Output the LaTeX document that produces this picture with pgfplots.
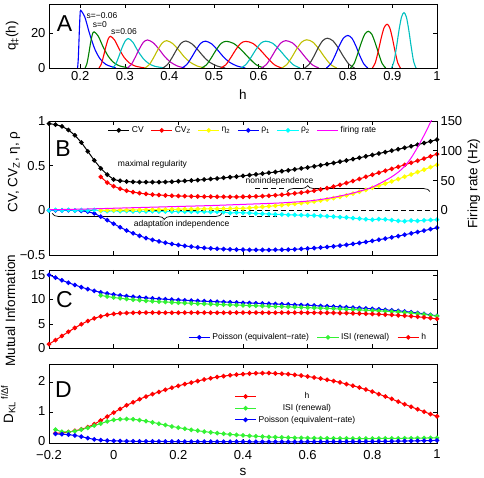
\documentclass[border=0pt]{standalone}
\usepackage{pgfplots}
\usepackage{pgfplotstable}
\pgfplotsset{compat=1.18}
\usepackage{fontspec}
\setmainfont{Liberation Sans}
\usetikzlibrary{decorations.pathreplacing}

\definecolor{mb}{rgb}{0,0,1}
\definecolor{mg}{rgb}{0,0.5,0}
\definecolor{mr}{rgb}{1,0,0}
\definecolor{mc}{rgb}{0,0.75,0.75}
\definecolor{mm}{rgb}{0.75,0,0.75}
\definecolor{my}{rgb}{0.75,0.75,0}
\definecolor{mk}{rgb}{0.25,0.25,0.25}
\definecolor{lgreen}{rgb}{0.2,0.95,0.2}
\definecolor{yel}{rgb}{1,1,0}
\definecolor{cya}{rgb}{0,1,1}
\definecolor{mag}{rgb}{1,0,1}

\pgfplotsset{
  base/.style={
    scale only axis, width=388pt, anchor=south west,
    /pgf/number format/assume math mode=true,
    tick label style={font=\fontsize{13}{14}\selectfont},
    label style={font=\fontsize{13.5}{15}\selectfont},
    major tick length=4pt, tick align=inside,
    axis line style={line width=0.6pt},
    every tick/.style={line width=0.6pt, black},
    legend style={font=\fontsize{8.5}{10}\selectfont, draw=none, fill=none},
    legend image code/.code={\draw[mark repeat=2,mark phase=2] plot coordinates {(0cm,0cm) (0.37cm,0cm) (0.74cm,0cm)};},
  },
  sx/.style={xmin=-0.2, xmax=1, xtick={-0.2,0,0.2,0.4,0.6,0.8,1}},
  ser/.style={color=#1, line width=1pt, mark=*, mark size=1.8pt, mark options={fill=#1, draw=#1, solid}},
  qa/.style={color=#1, line width=1.1pt, smooth, tension=0.5},
}

\pgfplotstableread{
s cv cvz eta ra rb
-0.20 0.970 nan nan 0.000 0.000
-0.18 0.960 nan nan 0.000 0.005
-0.16 0.940 nan nan 0.000 0.000
-0.14 0.900 nan nan 0.000 0.005
-0.12 0.840 nan nan -0.002 -0.002
-0.10 0.760 nan nan -0.006 0.004
-0.08 0.660 nan nan -0.015 0.000
-0.06 0.560 nan nan -0.035 0.005
-0.04 0.470 0.375 0.000 -0.070 -0.005
-0.02 0.400 0.310 0.001 -0.110 -0.010
0.00 0.345 0.270 0.002 -0.150 -0.005
0.02 0.330 0.242 0.003 -0.190 -0.010
0.04 0.322 0.220 0.004 -0.225 -0.008
0.06 0.318 0.204 0.005 -0.257 -0.012
0.08 0.316 0.192 0.006 -0.285 -0.010
0.10 0.315 0.183 0.007 -0.310 -0.012
0.12 0.315 0.176 0.008 -0.330 -0.010
0.14 0.316 0.171 0.009 -0.348 -0.013
0.16 0.318 0.167 0.010 -0.363 -0.012
0.18 0.321 0.164 0.011 -0.376 -0.014
0.20 0.325 0.161 0.012 -0.388 -0.012
0.22 0.329 0.159 0.013 -0.398 -0.015
0.24 0.334 0.157 0.014 -0.407 -0.014
0.26 0.339 0.155 0.015 -0.415 -0.016
0.28 0.345 0.154 0.016 -0.421 -0.015
0.30 0.351 0.153 0.017 -0.426 -0.018
0.32 0.357 0.152 0.018 -0.430 -0.017
0.34 0.364 0.151 0.019 -0.434 -0.020
0.36 0.371 0.151 0.020 -0.437 -0.030
0.38 0.378 0.151 0.021 -0.439 -0.025
0.40 0.386 0.152 0.022 -0.441 -0.028
0.42 0.394 0.153 0.027 -0.442 -0.030
0.44 0.402 0.156 0.033 -0.443 -0.035
0.46 0.411 0.159 0.039 -0.443 -0.038
0.48 0.420 0.163 0.045 -0.443 -0.042
0.50 0.429 0.168 0.052 -0.442 -0.045
0.52 0.438 0.174 0.059 -0.441 -0.047
0.54 0.448 0.181 0.066 -0.439 -0.050
0.56 0.458 0.189 0.073 -0.436 -0.052
0.58 0.469 0.198 0.080 -0.432 -0.054
0.60 0.480 0.208 0.088 -0.428 -0.056
0.62 0.492 0.220 0.098 -0.423 -0.058
0.64 0.504 0.233 0.109 -0.417 -0.062
0.66 0.517 0.248 0.122 -0.410 -0.066
0.68 0.530 0.265 0.136 -0.403 -0.070
0.70 0.544 0.285 0.151 -0.395 -0.075
0.72 0.558 0.306 0.168 -0.386 -0.080
0.74 0.573 0.328 0.187 -0.376 -0.087
0.76 0.588 0.351 0.207 -0.365 -0.093
0.78 0.604 0.375 0.229 -0.354 -0.100
0.80 0.620 0.399 0.252 -0.342 -0.105
0.82 0.636 0.421 0.276 -0.329 -0.098
0.84 0.652 0.443 0.300 -0.316 -0.102
0.86 0.668 0.465 0.325 -0.302 -0.110
0.88 0.684 0.487 0.350 -0.288 -0.118
0.90 0.700 0.509 0.376 -0.273 -0.122
0.92 0.717 0.532 0.402 -0.258 -0.115
0.94 0.735 0.555 0.428 -0.243 -0.118
0.96 0.753 0.579 0.455 -0.227 -0.112
0.98 0.772 0.604 0.483 -0.211 -0.108
1.00 0.792 0.630 0.510 -0.195 -0.105
}\tabB

\pgfplotstableread{
s pois isi h
-0.20 15.00 nan 0.90
-0.18 14.45 nan 1.70
-0.16 13.90 nan 2.55
-0.14 13.40 nan 3.40
-0.12 12.95 nan 4.20
-0.10 12.50 nan 4.95
-0.08 12.10 nan 5.60
-0.06 11.75 nan 6.15
-0.04 11.45 10.83 6.55
-0.02 11.20 10.59 6.85
0.00 11.00 10.40 7.05
0.02 10.82 10.22 7.17
0.04 10.67 10.08 7.24
0.06 10.54 9.95 7.28
0.08 10.42 9.84 7.30
0.10 10.31 9.73 7.30
0.12 10.21 9.63 7.30
0.14 10.12 9.55 7.30
0.16 10.04 9.47 7.30
0.18 9.96 9.40 7.30
0.20 9.89 9.33 7.30
0.22 9.82 9.26 7.30
0.24 9.76 9.21 7.30
0.26 9.70 9.15 7.30
0.28 9.64 9.10 7.30
0.30 9.58 9.04 7.30
0.32 9.53 8.99 7.30
0.34 9.47 8.94 7.30
0.36 9.42 8.89 7.30
0.38 9.37 8.85 7.30
0.40 9.32 8.80 7.30
0.42 9.27 8.75 7.30
0.44 9.22 8.71 7.30
0.46 9.17 8.66 7.30
0.48 9.12 8.62 7.30
0.50 9.07 8.57 7.30
0.52 9.02 8.53 7.30
0.54 8.97 8.48 7.30
0.56 8.91 8.43 7.30
0.58 8.86 8.38 7.30
0.60 8.80 8.33 7.30
0.62 8.74 8.28 7.29
0.64 8.68 8.23 7.28
0.66 8.62 8.18 7.27
0.68 8.55 8.12 7.25
0.70 8.48 8.06 7.23
0.72 8.41 8.00 7.20
0.74 8.33 7.94 7.17
0.76 8.25 7.87 7.13
0.78 8.17 7.81 7.09
0.80 8.08 7.73 7.04
0.82 7.99 7.67 6.98
0.84 7.89 7.60 6.91
0.86 7.79 7.53 6.84
0.88 7.68 7.45 6.76
0.90 7.55 7.35 6.67
0.92 7.40 7.23 6.57
0.94 7.24 7.10 6.46
0.96 7.06 6.95 6.34
0.98 6.86 6.78 6.20
1.00 6.65 6.60 6.05
}\tabC

\pgfplotstableread{
s h isi pois
-0.18 0.320 0.440 0.300
-0.16 0.330 0.370 0.290
-0.14 0.360 0.360 0.275
-0.12 0.400 0.390 0.250
-0.10 0.450 0.440 0.210
-0.08 0.520 0.500 0.160
-0.06 0.620 0.570 0.120
-0.04 0.740 0.640 0.095
-0.02 0.870 0.710 0.080
0.00 1.000 0.760 0.070
0.02 1.120 0.785 0.065
0.04 1.240 0.790 0.060
0.06 1.340 0.780 0.057
0.08 1.440 0.755 0.055
0.10 1.530 0.720 0.053
0.12 1.610 0.680 0.051
0.14 1.680 0.635 0.050
0.16 1.750 0.590 0.049
0.18 1.820 0.545 0.048
0.20 1.880 0.505 0.047
0.22 1.940 0.470 0.046
0.24 1.990 0.435 0.046
0.26 2.040 0.405 0.045
0.28 2.090 0.375 0.045
0.30 2.130 0.350 0.044
0.32 2.170 0.325 0.044
0.34 2.200 0.305 0.043
0.36 2.230 0.285 0.043
0.38 2.250 0.265 0.042
0.40 2.270 0.250 0.042
0.42 2.285 0.235 0.041
0.44 2.295 0.222 0.041
0.46 2.300 0.210 0.040
0.48 2.300 0.200 0.040
0.50 2.290 0.192 0.040
0.52 2.280 0.185 0.040
0.54 2.265 0.178 0.040
0.56 2.245 0.172 0.040
0.58 2.220 0.167 0.040
0.60 2.190 0.163 0.041
0.62 2.155 0.160 0.042
0.64 2.120 0.157 0.042
0.66 2.080 0.154 0.043
0.68 2.040 0.152 0.044
0.70 1.995 0.150 0.045
0.72 1.940 0.149 0.046
0.74 1.885 0.148 0.047
0.76 1.825 0.148 0.048
0.78 1.760 0.148 0.049
0.80 1.690 0.148 0.050
0.82 1.610 0.149 0.052
0.84 1.530 0.150 0.054
0.86 1.450 0.152 0.057
0.88 1.360 0.154 0.060
0.90 1.275 0.156 0.064
0.92 1.190 0.158 0.068
0.94 1.110 0.160 0.072
0.96 1.030 0.163 0.076
0.98 0.950 0.166 0.080
1.00 0.880 0.170 0.085
}\tabD

\begin{document}
\begin{tikzpicture}
\useasboundingbox (0,0) rectangle (484pt,478pt);

% ---------------- Panel A ----------------
\begin{axis}[base, at={(49pt,410pt)}, height=64pt,
  xmin=0.13, xmax=1, ymin=0, ymax=37,
  xtick={0.2,0.3,0.4,0.5,0.6,0.7,0.8,0.9,1},
  xticklabels={0.2,0.3,0.4,0.5,0.6,0.7,0.8,0.9,1},
  ytick={0,20}, yticklabels={0,20},
  xlabel={h}, ylabel={q\textsubscript{‡}(h)},
  xlabel style={at={(axis description cs:0.5,-0.41)}, anchor=center},
  ylabel style={at={(axis description cs:-0.095,0.5)}, anchor=center},
]
\addplot[qa=mb] coordinates {(0.194,0) (0.1954,4.0) (0.1968,12.7) (0.1982,22.6) (0.1996,30.6) (0.201,33.3) (0.2105,29.3) (0.2208,20.0) (0.2326,11.0) (0.2445,5.3) (0.2579,2.0) (0.28,0)};
\addplot[qa=mg] coordinates {(0.211,0) (0.215,2.5) (0.219,7.9) (0.223,14.2) (0.227,19.2) (0.231,20.9) (0.2405,18.4) (0.2508,12.5) (0.2626,6.9) (0.2745,3.3) (0.2879,1.25) (0.31,0)};
\addplot[qa=mr] coordinates {(0.242,0) (0.2472,2.2) (0.2524,7.0) (0.2576,12.4) (0.2628,16.8) (0.268,18.3) (0.2772,16.1) (0.2873,11.0) (0.2988,6.0) (0.3104,2.9) (0.3234,1.1) (0.345,0)};
\addplot[qa=mc] coordinates {(0.272,0) (0.2792,2.0) (0.2864,6.5) (0.2936,11.6) (0.3008,15.6) (0.308,17.0) (0.3178,15.0) (0.3285,10.2) (0.3408,5.6) (0.3531,2.7) (0.367,1.0) (0.39,0)};
\addplot[qa=mm] coordinates {(0.305,0) (0.3142,1.9) (0.3234,6.2) (0.3326,11.0) (0.3418,14.9) (0.351,16.2) (0.3636,14.6) (0.3762,11.0) (0.3888,6.8) (0.4014,3.6) (0.4182,1.1) (0.435,0)};
\addplot[qa=my] coordinates {(0.345,0) (0.3548,1.9) (0.3646,6.0) (0.3744,10.7) (0.3842,14.5) (0.394,15.8) (0.4069,14.2) (0.4198,10.7) (0.4327,6.6) (0.4456,3.5) (0.4628,1.1) (0.48,0)};
\addplot[qa=mk] coordinates {(0.385,0) (0.3954,1.9) (0.4058,5.9) (0.4162,10.6) (0.4266,14.4) (0.437,15.6) (0.4502,14.0) (0.4634,10.6) (0.4766,6.6) (0.4898,3.4) (0.5074,1.1) (0.525,0)};
\addplot[qa=mb] coordinates {(0.428,0) (0.4386,1.9) (0.4492,5.9) (0.4598,10.5) (0.4704,14.3) (0.481,15.5) (0.4944,14.0) (0.5077,10.5) (0.521,6.5) (0.5344,3.4) (0.5522,1.1) (0.57,0)};
\addplot[qa=mg] coordinates {(0.472,0) (0.483,1.8) (0.494,5.9) (0.505,10.5) (0.516,14.2) (0.527,15.4) (0.544,14.2) (0.561,10.5) (0.578,5.9) (0.595,1.8) (0.612,0)};
\addplot[qa=mr] coordinates {(0.515,0) (0.5262,1.8) (0.5374,5.9) (0.5486,10.5) (0.5598,14.2) (0.571,15.4) (0.5872,14.2) (0.6034,10.5) (0.6196,5.9) (0.6358,1.8) (0.652,0)};
\addplot[qa=mc] coordinates {(0.56,0) (0.5712,1.9) (0.5824,5.9) (0.5936,10.5) (0.6048,14.3) (0.616,15.5) (0.6314,14.3) (0.6468,10.5) (0.6622,5.9) (0.6776,1.9) (0.693,0)};
\addplot[qa=mm] coordinates {(0.606,0) (0.617,1.9) (0.628,6.0) (0.639,10.7) (0.65,14.5) (0.661,15.8) (0.6758,14.5) (0.6906,10.7) (0.7054,6.0) (0.7202,1.9) (0.735,0)};
\addplot[qa=my] coordinates {(0.652,0) (0.6632,2.0) (0.6744,6.2) (0.6856,11.1) (0.6968,15.0) (0.708,16.3) (0.7214,15.0) (0.7348,11.1) (0.7482,6.2) (0.7616,2.0) (0.775,0)};
\addplot[qa=mk] coordinates {(0.703,0) (0.7132,2.1) (0.7234,6.5) (0.7336,11.7) (0.7438,15.8) (0.754,17.2) (0.7662,15.8) (0.7784,11.7) (0.7906,6.5) (0.8028,2.1) (0.815,0)};
\addplot[qa=mb] coordinates {(0.752,0) (0.7616,2.3) (0.7712,7.1) (0.7808,12.8) (0.7904,17.3) (0.8,18.8) (0.809,17.3) (0.818,12.8) (0.827,7.1) (0.836,2.3) (0.845,0)};
\addplot[qa=mg] coordinates {(0.806,0) (0.814,2.5) (0.822,8.1) (0.83,14.4) (0.838,19.5) (0.846,21.2) (0.8538,19.5) (0.8616,14.4) (0.8694,8.1) (0.8772,2.5) (0.885,0)};
\addplot[qa=mr] coordinates {(0.855,0) (0.8616,3.0) (0.8682,9.6) (0.8748,17.2) (0.8814,23.3) (0.888,25.3) (0.894,23.3) (0.9,17.2) (0.906,9.6) (0.912,3.0) (0.918,0)};
\addplot[qa=mc] coordinates {(0.898,0) (0.9036,3.8) (0.9092,12.2) (0.9148,21.8) (0.9204,29.4) (0.926,32) (0.9314,29.4) (0.9368,21.8) (0.9422,12.2) (0.9476,3.8) (0.953,0)};
\node[font=\fontsize{23}{24}\selectfont] at (rel axis cs:0.04,0.695) {A};
\node[font=\fontsize{8.5}{9}\selectfont] at (axis cs:0.2487,30.2) {s=−0.06};
\node[font=\fontsize{8.5}{9}\selectfont] at (axis cs:0.2442,25.0) {s=0};
\node[font=\fontsize{8.5}{9}\selectfont] at (axis cs:0.298,20.9) {s=0.06};
\end{axis}

% ---------------- Panel B (left axis) ----------------
\begin{axis}[base, sx, at={(49pt,223pt)}, height=134pt,
  ymin=-0.5, ymax=1, ytick={-0.5,0,0.5,1}, yticklabels={−0.5,0,0.5,1},
  xticklabels={}, ytick pos=left,
  ylabel={CV, CV\textsubscript{Z}, η, ρ},
  ylabel style={at={(axis description cs:-0.09,0.62)}, anchor=center},
]
\addplot[black, line width=0.7pt, dash pattern=on 5pt off 3pt] coordinates {(-0.2,0) (1,0)};
\addplot[ser=mb] table[x=s,y=ra]{\tabB};
\addplot[ser=cya] table[x=s,y=rb]{\tabB};
\addplot[ser=yel] table[x=s,y=eta]{\tabB};
\addplot[ser=mr] table[x=s,y=cvz]{\tabB};
\addplot[ser=black] table[x=s,y=cv]{\tabB};
\draw[decorate, decoration={brace, mirror, amplitude=6pt, aspect=0.66}, line width=0.7pt] (axis cs:-0.19,-0.035) -- (axis cs:0.335,-0.035);
\draw[line width=0.7pt, dash pattern=on 5pt off 3pt] (axis cs:0.345,-0.068) -- (axis cs:0.505,-0.068);
\draw[decorate, decoration={brace, amplitude=6pt, aspect=0.145}, line width=0.7pt] (axis cs:0.536,0.21) -- (axis cs:0.978,0.21);
\draw[line width=0.7pt, dash pattern=on 5pt off 3pt] (axis cs:0.437,0.243) -- (axis cs:0.528,0.243);
\node[font=\fontsize{8.5}{9}\selectfont] at (axis cs:0.12,0.51) {maximal regularity};
\node[font=\fontsize{8.5}{9}\selectfont] at (axis cs:0.513,0.33) {nonindependence};
\node[font=\fontsize{8.5}{9}\selectfont] at (axis cs:0.21,-0.155) {adaptation independence};
\node[font=\fontsize{23}{24}\selectfont] at (rel axis cs:0.036,0.796) {B};
\end{axis}

% ---------------- Panel B (right axis) ----------------
\begin{axis}[base, sx, at={(49pt,223pt)}, height=134pt,
  ymin=-75, ymax=150, ytick={0,50,100,150}, yticklabels={0,50,100,150},
  axis y line*=right, axis x line=none, tick align=inside,
  ylabel={Firing rate (Hz)},
  ylabel style={at={(axis description cs:1.095,0.533)}, anchor=center, rotate=0},
  legend columns=6,
  legend style={at={(0.5,0.99)}, anchor=north, /tikz/every even column/.append style={column sep=5pt}},
]
\addlegendimage{ser=black}\addlegendentry{CV}
\addlegendimage{ser=mr}\addlegendentry{CV\textsubscript{Z}}
\addlegendimage{ser=yel}\addlegendentry{η\textsubscript{2}}
\addlegendimage{ser=mb}\addlegendentry{ρ\textsubscript{1}}
\addlegendimage{ser=cya}\addlegendentry{ρ\textsubscript{2}}
\addplot[mag, line width=1pt, smooth] coordinates {(-0.2,1) (-0.1,2) (0,3.5) (0.1,5) (0.2,6.5) (0.3,8) (0.4,10) (0.5,12) (0.55,13.5) (0.6,15.5) (0.65,19) (0.7,24) (0.75,30.5) (0.8,39) (0.85,53) (0.88,64) (0.9,74) (0.92,88) (0.94,106) (0.96,126) (0.98,148) (0.99,160) (1.0,175)};
\addlegendentry{firing rate}
\end{axis}

% ---------------- Panel C ----------------
\begin{axis}[base, sx, at={(49pt,129.5pt)}, height=78.5pt,
  ymin=0, ymax=16, ytick={0,5,10,15}, yticklabels={0,5,10,15},
  xticklabels={},
  ylabel={Mutual Information},
  ylabel style={at={(axis description cs:-0.1,0.48)}, anchor=center},
  legend columns=3,
  legend style={at={(0.985,0.04)}, anchor=south east, /tikz/every even column/.append style={column sep=6pt}},
]
\addplot[ser=mb] table[x=s,y=pois]{\tabC};
\addlegendentry{Poisson (equivalent−rate)}
\addplot[ser=lgreen] table[x=s,y=isi]{\tabC};
\addlegendentry{ISI (renewal)}
\addplot[ser=mr] table[x=s,y=h]{\tabC};
\addlegendentry{h}
\node[font=\fontsize{23}{24}\selectfont] at (rel axis cs:0.04,0.62) {C};
\end{axis}

% ---------------- Panel D ----------------
\begin{axis}[base, sx, at={(49pt,35pt)}, height=79pt,
  ymin=0, ymax=2.6, ytick={0,1,2}, yticklabels={0,1,2},
  xticklabels={−0.2,0,0.2,0.4,0.6,0.8,1},
  xticklabel style={yshift=-3.5pt},
  yticklabel style={yshift=1.5pt},
  xlabel={s},
  xlabel style={at={(axis description cs:0.5,-0.37)}, anchor=center},
  ylabel={D\textsubscript{KL}\,\textsuperscript{f/Δf}},
  ylabel style={at={(axis description cs:-0.105,0.49)}, anchor=center},
  legend columns=1,
  legend style={at={(0.47,0.69)}, anchor=north west},
]
\addplot[ser=mr] table[x=s,y=h]{\tabD};
\addlegendentry{h}
\addplot[ser=lgreen] table[x=s,y=isi]{\tabD};
\addlegendentry{ISI (renewal)}
\addplot[ser=mb] table[x=s,y=pois]{\tabD};
\addlegendentry{Poisson (equivalent−rate)}
\node[font=\fontsize{23}{24}\selectfont] at (rel axis cs:0.037,0.675) {D};
\end{axis}
\end{tikzpicture}
\end{document}
